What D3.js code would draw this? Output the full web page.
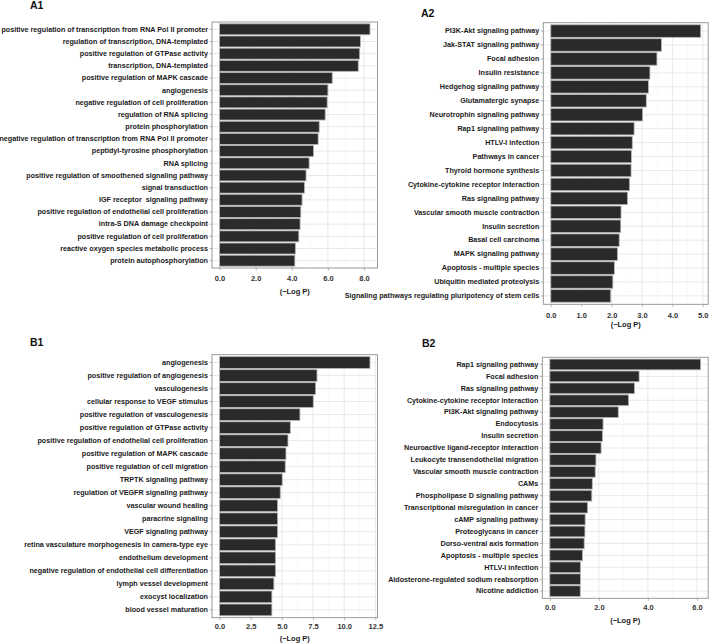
<!DOCTYPE html>
<html><head><meta charset="utf-8">
<script src="https://cdn.jsdelivr.net/npm/d3@7"></script>
<style>
body{margin:0;background:#fff;}
svg text{font-family:"Liberation Sans",Arial,sans-serif;font-weight:bold;}
</style></head>
<body><svg id="chart" width="709" height="643"></svg>
<script>
// ---- data ----
const a1Terms = ["positive regulation of transcription from RNA Pol II promoter","regulation of transcription, DNA-templated","positive regulation of GTPase activity","transcription, DNA-templated","positive regulation of MAPK cascade","angiogenesis","negative regulation of cell proliferation","regulation of RNA splicing","protein phosphorylation","negative regulation of transcription from RNA Pol II promoter","peptidyl-tyrosine phosphorylation","RNA splicing","positive regulation of smoothened signaling pathway","signal transduction","IGF receptor  signaling pathway","positive regulation of endothelial cell proliferation","intra-S DNA damage checkpoint","positive regulation of cell proliferation","reactive oxygen species metabolic process","protein autophosphorylation"];
const a1Values = [8.33,7.8,7.76,7.68,6.24,6.0,5.96,5.85,5.52,5.46,5.2,4.96,4.79,4.7,4.57,4.5,4.46,4.39,4.2,4.17];
const a1Ticks = [0,2,4,6,8];
const a1Minor = [1,3,5,7];

const a2Terms = ["PI3K-Akt signaling pathway","Jak-STAT signaling pathway","Focal adhesion","Insulin resistance","Hedgehog signaling pathway","Glutamatergic synapse","Neurotrophin signaling pathway","Rap1 signaling pathway","HTLV-I infection","Pathways in cancer","Thyroid hormone synthesis","Cytokine-cytokine receptor interaction","Ras signaling pathway","Vascular smooth muscle contraction","Insulin secretion","Basal cell carcinoma","MAPK signaling pathway","Apoptosis - multiple species","Ubiquitin mediated proteolysis","Signaling pathways regulating pluripotency of stem cells"];
const a2Values = [4.93,3.64,3.49,3.26,3.21,3.14,3.02,2.74,2.68,2.65,2.64,2.59,2.52,2.31,2.30,2.25,2.19,2.09,2.04,1.97];
const a2Ticks = [0,1,2,3,4,5];
const a2Minor = [0.5,1.5,2.5,3.5,4.5];

const b1Terms = ["angiogenesis","positive regulation of angiogenesis","vasculogenesis","cellular response to VEGF stimulus","positive regulation of vasculogenesis","positive regulation of GTPase activity","positive regulation of endothelial cell proliferation","positive regulation of MAPK cascade","positive regulation of cell migration","TRPTK signaling pathway","regulation of VEGFR signaling pathway","vascular wound healing","paracrine signaling","VEGF signaling pathway","retina vasculature morphogenesis in camera-type eye","endothelium development","negative regulation of endothelial cell differentiation","lymph vessel development","exocyst localization","blood vessel maturation"];
const b1Values = [12.07,7.82,7.71,7.52,6.45,5.68,5.49,5.33,5.27,5.03,4.87,4.66,4.66,4.66,4.5,4.5,4.5,4.36,4.2,4.2];
const b1Ticks = [0,2.5,5,7.5,10,12.5];
const b1Minor = [1.25,3.75,6.25,8.75,11.25];

const b2Terms = ["Rap1 signaling pathway","Focal adhesion","Ras signaling pathway","Cytokine-cytokine receptor interaction","PI3K-Akt signaling pathway","Endocytosis","Insulin secretion","Neuroactive ligand-receptor interaction","Leukocyte transendothelial migration","Vascular smooth muscle contraction","CAMs","Phospholipase D signaling pathway","Transcriptional misregulation in cancer","cAMP signaling pathway","Proteoglycans in cancer","Dorso-ventral axis formation","Apoptosis - multiple species","HTLV-I infection","Aldosterone-regulated sodium reabsorption","Nicotine addiction"];
const b2Values = [6.15,3.64,3.45,3.21,2.79,2.17,2.15,2.09,1.88,1.85,1.73,1.71,1.54,1.44,1.43,1.40,1.33,1.25,1.25,1.24];
const b2Ticks = [0,2,4,6];
const b2Minor = [1,3,5];

const xLabel = "(\u2212Log P)";

// ---- layout ----
const panels = [
  {title:"A1", terms:a1Terms, values:a1Values, ticks:a1Ticks, minor:a1Minor, fmt:d3.format(".1f"),
   l:212, r:377.5, t:22, b:268, tx:30, ty:9, tp:5, xl:25.7},
  {title:"A2", terms:a2Terms, values:a2Values, ticks:a2Ticks, minor:a2Minor, fmt:d3.format(".1f"),
   l:543.3, r:708.2, t:22.7, b:304.3, tx:421, ty:17, tp:6, xl:23.1},
  {title:"B1", terms:b1Terms, values:b1Values, ticks:b1Ticks, minor:b1Minor, fmt:d3.format(".1f"),
   l:212, r:377.5, t:354.7, b:617.7, tx:30, ty:346, tp:3.2, xl:23.6},
  {title:"B2", terms:b2Terms, values:b2Values, ticks:b2Ticks, minor:b2Minor, fmt:d3.format(".1f"),
   l:542.3, r:708.2, t:357.3, b:598.3, tx:422, ty:347, tp:3.8, xl:25.1}
];

const svg = d3.select("#chart");

panels.forEach(p => {
  const g = svg.append("g");
  const mx = d3.max(p.values);
  const x = d3.scaleLinear().domain([-0.05*mx, 1.05*mx]).range([p.l, p.r]);
  const y = d3.scaleBand().domain(p.terms).range([p.t, p.b]).paddingInner(0.1).paddingOuter(0.15);

  // grid
  g.selectAll(".mn").data(p.minor).join("line")
    .attr("x1", d=>x(d)).attr("x2", d=>x(d)).attr("y1", p.t).attr("y2", p.b)
    .attr("stroke", "#f2f2f2").attr("stroke-width", 0.5);
  g.selectAll(".mj").data(p.ticks).join("line")
    .attr("x1", d=>x(d)).attr("x2", d=>x(d)).attr("y1", p.t).attr("y2", p.b)
    .attr("stroke", "#e3e3e3").attr("stroke-width", 0.8);
  g.selectAll(".hg").data(p.terms).join("line")
    .attr("x1", p.l).attr("x2", p.r).attr("y1", d=>y(d)+y.bandwidth()/2).attr("y2", d=>y(d)+y.bandwidth()/2)
    .attr("stroke", "#e3e3e3").attr("stroke-width", 0.8);

  // bars
  g.selectAll(".bar").data(p.terms).join("rect")
    .attr("x", x(0)).attr("y", d=>y(d))
    .attr("width", (d,i)=>x(p.values[i]) - x(0))
    .attr("height", y.bandwidth())
    .attr("fill", "#2a2a2a").attr("stroke", "#b5b5b5").attr("stroke-width", 0.8);

  // border
  g.append("rect").attr("x", p.l).attr("y", p.t).attr("width", p.r-p.l).attr("height", p.b-p.t)
    .attr("fill", "none").attr("stroke", "#8f8f8f").attr("stroke-width", 0.9);

  // y axis
  const ya = g.append("g").attr("transform", `translate(${p.l},0)`)
    .call(d3.axisLeft(y).tickSize(2.5).tickPadding(1.5));
  ya.select(".domain").remove();
  ya.selectAll(".tick line").attr("stroke", "#888").attr("stroke-width", 0.6);
  ya.selectAll(".tick text").attr("fill", "#1a1a1a").style("font-size", "7.2px")
    .style("font-family", "'Liberation Sans',Arial,sans-serif").style("font-weight", "bold")
    .style("white-space", "pre");

  // x axis
  const xa = g.append("g").attr("transform", `translate(0,${p.b})`)
    .call(d3.axisBottom(x).tickValues(p.ticks).tickFormat(p.fmt).tickSize(2.5).tickPadding(p.tp));
  xa.select(".domain").remove();
  xa.selectAll(".tick line").attr("stroke", "#888").attr("stroke-width", 0.6);
  xa.selectAll(".tick text").attr("fill", "#333").style("font-size", "7.5px")
    .style("font-family", "'Liberation Sans',Arial,sans-serif").style("font-weight", "bold");

  // x label
  g.append("text").attr("x", (p.l+p.r)/2).attr("y", p.b + p.xl)
    .attr("text-anchor", "middle").attr("fill", "#1a1a1a").style("font-size", "7.5px").text(xLabel);

  // title
  g.append("text").attr("x", p.tx).attr("y", p.ty).attr("fill", "#111")
    .style("font-size", "10.5px").text(p.title);
});
</script></body></html>
